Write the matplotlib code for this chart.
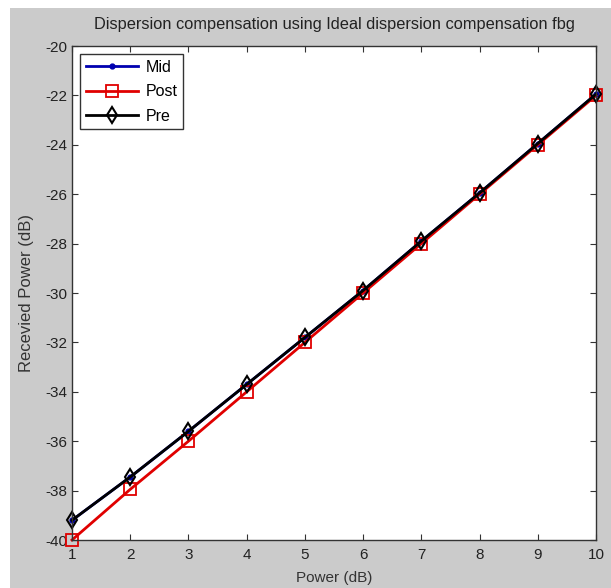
import matplotlib
matplotlib.use("Agg")
import matplotlib.pyplot as plt
from matplotlib.patches import Rectangle

power = [1, 2, 3, 4, 5, 6, 7, 8, 9, 10]
mid = [-39.2, -37.45, -35.6, -33.7, -31.8, -29.9, -27.9, -25.95, -23.95, -21.95]
post = [-40.0, -37.95, -36.0, -34.0, -32.0, -30.0, -28.0, -26.0, -24.0, -22.0]
pre = [-39.2, -37.45, -35.6, -33.7, -31.8, -29.9, -27.9, -25.95, -23.95, -21.95]
yticks = [-40, -38, -36, -34, -32, -30, -28, -26, -24, -22, -20]

plt.rcParams['font.family'] = ['Liberation Sans', 'DejaVu Sans']
plt.rcParams['axes.unicode_minus'] = False

W, H = 611, 588
fig = plt.figure(figsize=(W / 100, H / 100), dpi=100, facecolor='white')
fig.patches.append(Rectangle((10 / W, 0), 1 - 10 / W, 1 - 8 / H, transform=fig.transFigure,
                             facecolor='#cbcbcb', edgecolor='none', zorder=-10))

ax = fig.add_axes([72 / W, 1 - 540 / H, 524 / W, 494 / H])
ax.set_facecolor('white')

ax.plot(power, mid, color='#0000b0', lw=2, marker='.', ms=7, label='Mid', clip_on=False)
ax.plot(power, post, color='#e00000', lw=2, marker='s', ms=8, mfc='none', mew=1.3,
        label='Post', clip_on=False)
ax.plot(power, pre, color='black', lw=2, marker='d', ms=8, mfc='none', mew=1.5,
        label='Pre', clip_on=False)

ax.set_xlim(1, 10)
ax.set_ylim(-40, -20)
ax.set_xticks(power)
ax.set_yticks(yticks)
ax.tick_params(direction='in', top=True, right=True, length=4, labelsize=11, color='#333333',
               labelcolor='#222222')
ax.tick_params(axis='x', pad=6)
for s in ax.spines.values():
    s.set_color('#333333')
    s.set_linewidth(1)

ax.set_title('Dispersion compensation using Ideal dispersion compensation fbg', fontsize=11.8,
             color='#222222', pad=12)
ax.set_xlabel('Power (dB)', fontsize=11, color='#333333', labelpad=6)
ax.set_ylabel('Recevied Power (dB)', fontsize=12, color='#333333', labelpad=8)

leg = ax.legend(loc='upper left', fontsize=11.5, handlelength=3.3, borderpad=0.35,
                labelspacing=0.6, fancybox=False, framealpha=1, borderaxespad=0.5,
                handletextpad=0.45)
leg.get_frame().set_edgecolor('#333333')
leg.get_frame().set_linewidth(1)

fig.savefig('out.png', dpi=100, facecolor=fig.get_facecolor())
